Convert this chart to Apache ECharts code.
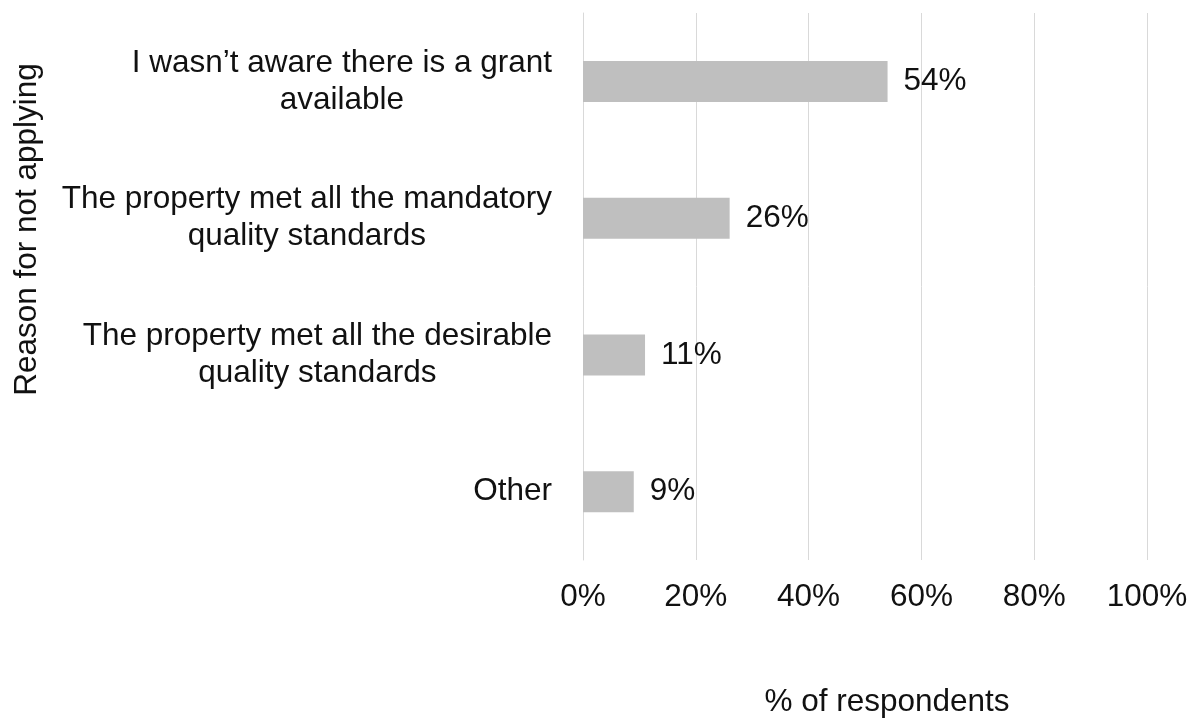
<!DOCTYPE html>
<html>
<head>
<meta charset="utf-8">
<style>
  html, body { margin: 0; padding: 0; background: #ffffff; }
  #chart { width: 1203px; height: 723px; }
</style>
<script src="https://cdn.jsdelivr.net/npm/echarts@6/dist/echarts.min.js"></script>
</head>
<body>
<div id="chart"></div>
<script>
// Reasons given for not applying for the grant (top to bottom)
const reasons = [
  'I wasn\u2019t aware there is a grant\navailable',
  'The property met all the mandatory\nquality standards',
  'The property met all the desirable\nquality standards',
  'Other'
];
// Share of respondents giving each reason, in percent
const shares = [54, 26, 11, 9];
// Horizontal axis ticks, in percent
const tickValues = [0, 20, 40, 60, 80, 100];

const FONT = '"Liberation Sans", Arial, sans-serif';
const TEXT = '#111111';
const SIZE = 31.5;

const chart = echarts.init(document.getElementById('chart'), null, { renderer: 'canvas' });

chart.setOption({
  backgroundColor: '#ffffff',
  animation: false,
  textStyle: { fontFamily: FONT, color: TEXT },
  grid: { left: 583, right: 56, top: 13, bottom: 160, containLabel: false },
  xAxis: {
    type: 'value',
    min: tickValues[0],
    max: tickValues[tickValues.length - 1],
    interval: tickValues[1] - tickValues[0],
    name: '% of respondents',
    nameLocation: 'middle',
    nameGap: 126,
    nameTextStyle: { fontSize: SIZE, color: TEXT, fontFamily: FONT, padding: [0, 0, 0, 44] },
    axisLine: { show: false },
    axisTick: { show: false },
    axisLabel: {
      formatter: '{value}%',
      fontSize: SIZE,
      color: TEXT,
      fontFamily: FONT,
      margin: 21
    },
    splitLine: { show: true, lineStyle: { color: '#d9d9d9', width: 1 } }
  },
  yAxis: {
    type: 'category',
    inverse: true,
    data: reasons,
    name: 'Reason for not applying',
    nameLocation: 'middle',
    nameGap: 540,
    nameRotate: 90,
    nameTextStyle: { fontSize: SIZE, color: TEXT, fontFamily: FONT, padding: [0, 0, 0, 114] },
    axisLine: { show: true, lineStyle: { color: '#d9d9d9', width: 1 } },
    axisTick: { show: false },
    splitLine: { show: false },
    axisLabel: {
      margin: 31,
      fontSize: SIZE,
      lineHeight: 37,
      color: TEXT,
      fontFamily: FONT,
      // each line centred inside the right-aligned label block
      formatter: function (v) { return '{c|' + v + '}'; },
      rich: {
        c: { align: 'center', fontSize: SIZE, lineHeight: 37, color: TEXT, fontFamily: FONT }
      }
    }
  },
  series: [{
    type: 'bar',
    data: shares,
    barWidth: 41,
    itemStyle: { color: '#bfbfbf' },
    label: {
      show: true,
      position: 'right',
      distance: 16,
      formatter: '{c}%',
      fontSize: SIZE,
      color: TEXT,
      fontFamily: FONT
    }
  }]
});
</script>
</body>
</html>
